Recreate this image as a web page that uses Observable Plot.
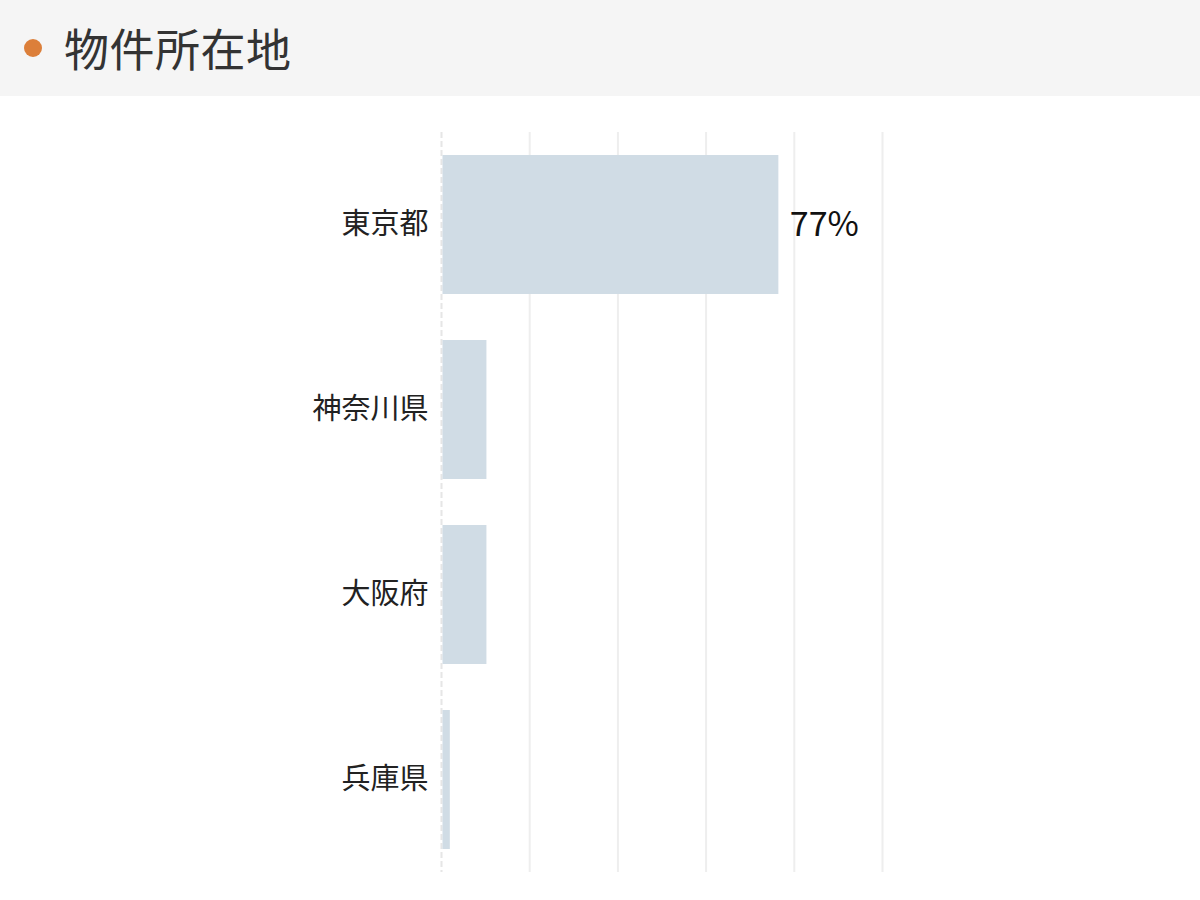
<!DOCTYPE html>
<html>
<head>
<meta charset="utf-8">
<script src="https://cdn.jsdelivr.net/npm/d3@7"></script>
<script src="https://cdn.jsdelivr.net/npm/@observablehq/plot@0.6"></script>
<style>
  html, body { margin: 0; padding: 0; background: #fff; width: 1200px; height: 900px; overflow: hidden; }
  body { font-family: "Noto Sans CJK JP", "Noto Sans", sans-serif; }
  #header { height: 96px; background: #f5f5f5; position: relative; }
  #header .dot { position: absolute; left: 24px; top: 39px; width: 18px; height: 18px; border-radius: 50%; background: #dc7f3a; }
  #header .title { position: absolute; left: 64px; top: 0; line-height: 96px; font-size: 45px; color: #333; letter-spacing: 0.5px; }
</style>
</head>
<body>
<div id="header"><span class="dot"></span><span class="title">物件所在地</span></div>
<div id="chart"></div>
<script>
const categories = ["東京都", "神奈川県", "大阪府", "兵庫県"];
const values = [76.5, 10.3, 10.3, 2.0];
const labels = ["77%", "", "", ""];
const gridTicks = [20, 40, 60, 80, 100];

const data = categories.map((c, i) => ({ category: c, value: values[i], label: labels[i] }));

const chart = Plot.plot({
  width: 1200,
  height: 804,
  marginLeft: 441,
  marginRight: 318,
  marginTop: 36,
  marginBottom: 28,
  style: { fontFamily: "'Noto Sans CJK JP', 'Noto Sans', sans-serif", background: "transparent" },
  x: { domain: [0, 100], axis: null },
  y: { domain: categories, paddingInner: 0.25, paddingOuter: 0.125, label: null },
  marks: [
    Plot.ruleX(gridTicks, { stroke: "#eeeeee", strokeWidth: 2 }),
    Plot.ruleX([0], { stroke: "#e6e6e6", strokeWidth: 2, strokeDasharray: "6,3" }),
    Plot.barX(data, { x1: 0, x2: "value", y: "category", fill: "#d0dce5", insetLeft: 1.5 }),
    Plot.text(data, { x: "value", y: "category", text: "label", textAnchor: "start", dx: 11, fontSize: 34, fill: "#111", letterSpacing: "0.5px" }),
    Plot.axisY({ tickSize: 0, tickPadding: 13, fontSize: 29, color: "#222", label: null })
  ]
});
document.getElementById("chart").appendChild(chart);
</script>
</body>
</html>
